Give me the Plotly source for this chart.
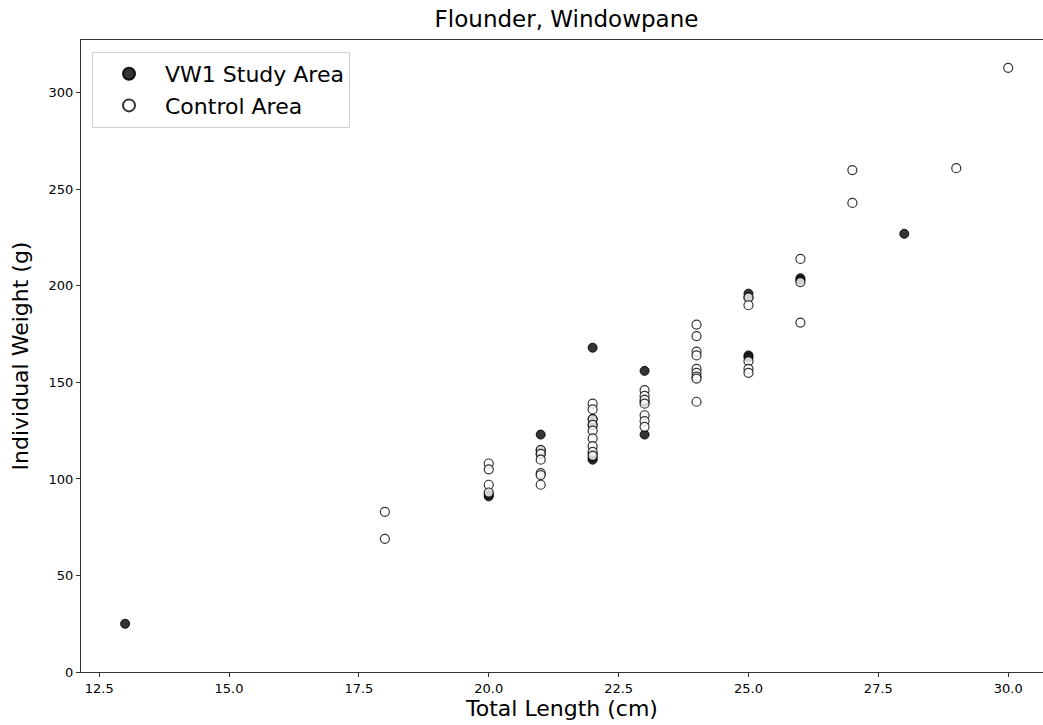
import plotly.graph_objects as go

# VW1 Study Area (filled)
vw1_length = [13, 20, 20, 21, 21, 21, 22, 22, 22, 22, 22, 22, 23, 23, 23, 25, 25, 25, 25, 26, 26, 28]
vw1_weight = [25, 91, 92, 123, 115, 113, 168, 131, 128, 113, 111, 110, 156, 140, 123, 196, 194, 164, 163, 204, 203, 227]

# Control Area (open)
ctl_length = [18, 18, 20, 20, 20, 20, 21, 21, 21, 21, 21, 21,
              22, 22, 22, 22, 22, 22, 22, 22, 22,
              23, 23, 23, 23, 23, 23, 23,
              24, 24, 24, 24, 24, 24, 24, 24, 24,
              25, 25, 25, 25, 25, 26, 26, 26, 27, 27, 29, 30]
ctl_weight = [83, 69, 108, 105, 97, 93, 115, 113, 110, 103, 102, 97,
              139, 136, 131, 128, 125, 121, 117, 114, 112,
              146, 143, 141, 139, 133, 130, 127,
              180, 174, 166, 164, 157, 155, 153, 152, 140,
              194, 190, 161, 157, 155, 214, 202, 181, 260, 243, 261, 313]

x_ticks = [12.5, 15.0, 17.5, 20.0, 22.5, 25.0, 27.5, 30.0]
y_ticks = [0, 50, 100, 150, 200, 250, 300]

FONT = "DejaVu Sans"

fig = go.Figure()
fig.add_trace(go.Scatter(
    x=vw1_length, y=vw1_weight, mode="markers", name="VW1 Study Area",
    marker=dict(size=9, color="rgba(30,30,30,0.9)", line=dict(color="rgba(0,0,0,0.9)", width=1)),
))
fig.add_trace(go.Scatter(
    x=ctl_length, y=ctl_weight, mode="markers", name="Control Area",
    marker=dict(size=9, color="rgba(255,255,255,0.8)", line=dict(color="rgba(0,0,0,0.8)", width=1.2)),
))

fig.update_layout(
    width=1043, height=725,
    margin=dict(l=81, r=0, t=40, b=53),
    paper_bgcolor="white", plot_bgcolor="white",
    font=dict(family=FONT, color="black", size=13),
    title=dict(text="Flounder, Windowpane", x=(81 + 1052) / 2 / 1043, xanchor="center",
               y=1 - 19 / 725, yanchor="middle", font=dict(size=23, family=FONT, color="black")),
    legend=dict(x=(92 - 81) / 962, y=1 - 12 / 632, xanchor="left", yanchor="top",
                bordercolor="#d0d0d0", borderwidth=1, bgcolor="rgba(255,255,255,0.8)",
                font=dict(size=22, family=FONT, color="black"), itemsizing="constant",
                itemwidth=62),
    showlegend=True,
)
fig.update_xaxes(
    range=[12.15, 30.67], tickvals=x_ticks, ticktext=[f"{v:.1f}" for v in x_ticks],
    showgrid=False, zeroline=False, showline=True, linecolor="#333", linewidth=1, mirror=True,
    ticks="outside", ticklen=4, tickcolor="#333", tickfont=dict(size=13, family=FONT),
    title=dict(text="Total Length (cm)", font=dict(size=22, family=FONT), standoff=4),
)
fig.update_yaxes(
    range=[0, 327.4], tickvals=y_ticks,
    showgrid=False, zeroline=False, showline=True, linecolor="#333", linewidth=1,
    ticks="outside", ticklen=4, tickcolor="#333", tickfont=dict(size=13, family=FONT),
    title=dict(text="Individual Weight (g)", font=dict(size=22, family=FONT), standoff=13),
)

fig.write_html("out.html")
